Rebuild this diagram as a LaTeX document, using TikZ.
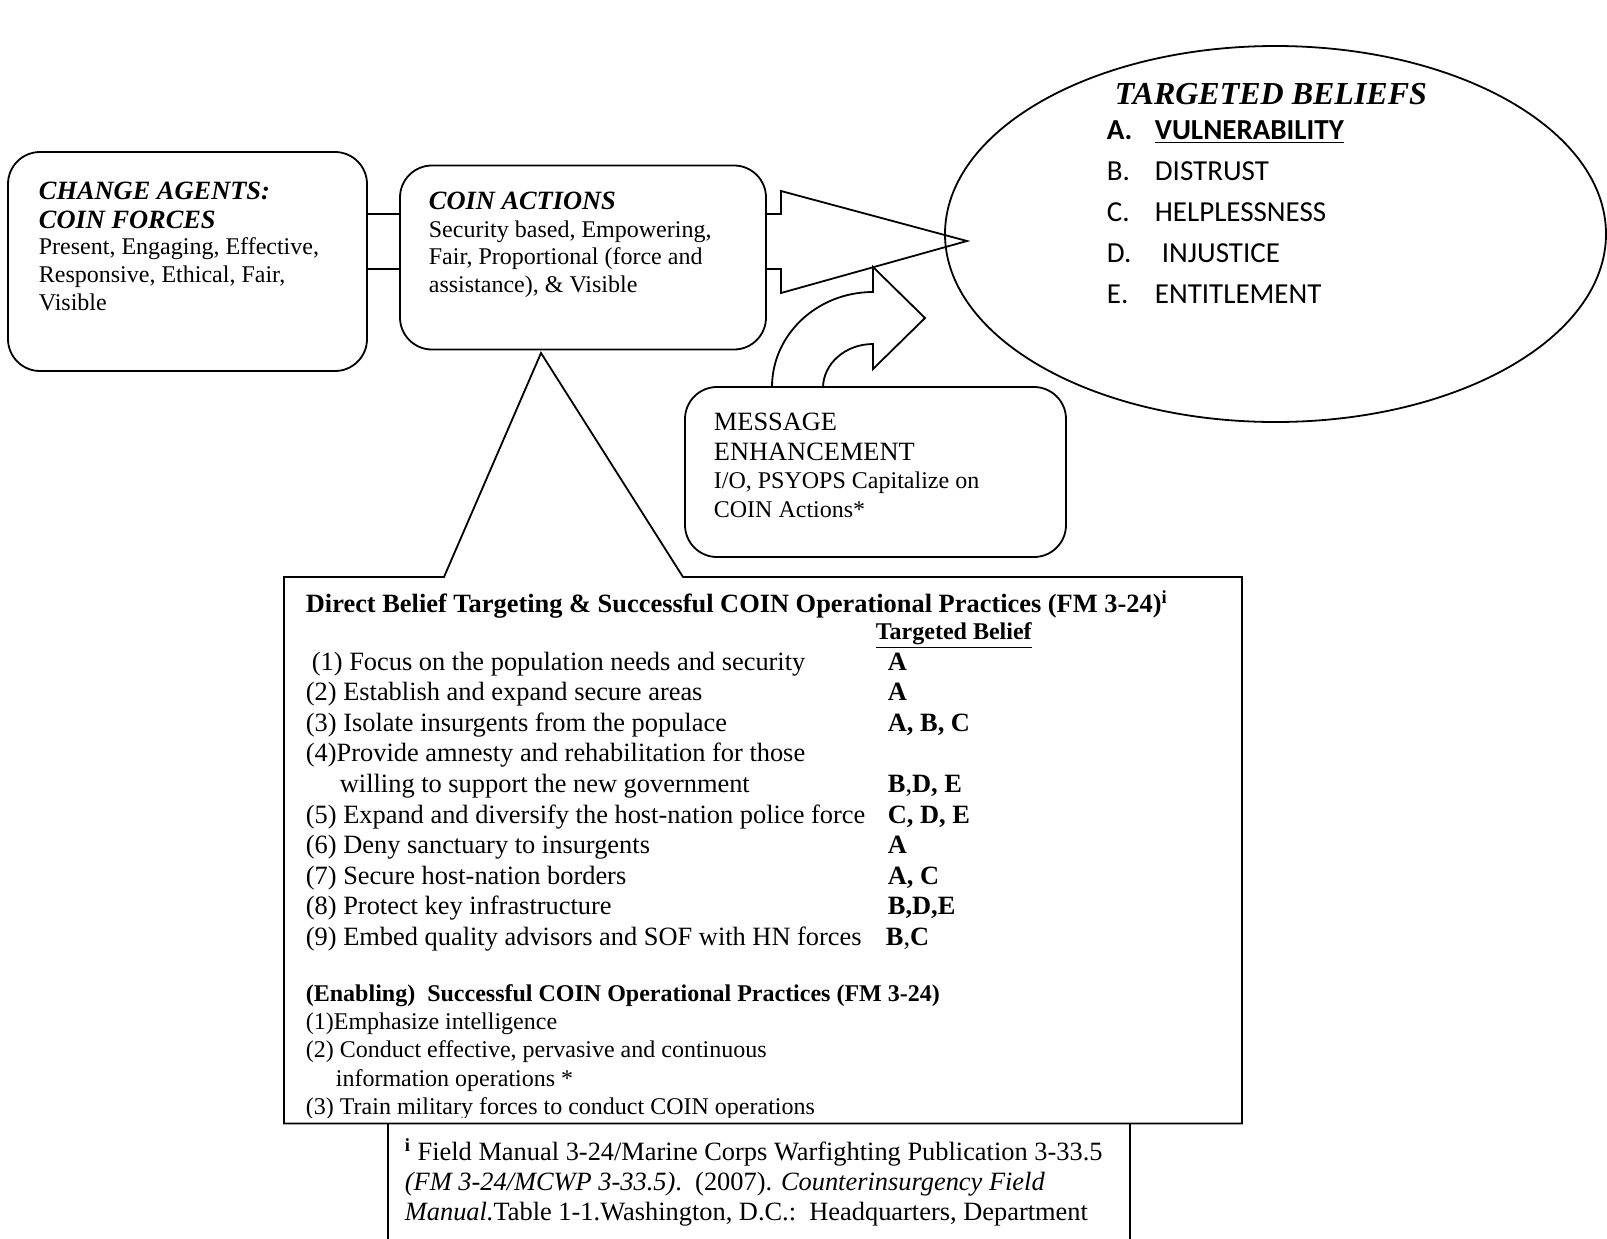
\documentclass[tikz,border=0pt]{standalone}
\usepackage{fontspec}
\setmainfont{Liberation Serif}
\newfontfamily\calib{Carlito}
\usetikzlibrary{shapes.geometric}
\begin{document}
\begin{tikzpicture}[x=0.5pt,y=-0.5pt,line width=0.9pt,
  every node/.style={inner sep=0pt},
  txt/.style={anchor=base west, font=\fontsize{12}{14}\selectfont},
  mid/.style={anchor=base west, font=\fontsize{13.2}{15}\selectfont},
  midb/.style={anchor=base west, font=\fontsize{13.2}{15}\selectfont\bfseries},
  ttl/.style={anchor=base west, font=\fontsize{13.2}{15}\selectfont\bfseries\itshape},
  lst/.style={anchor=base west, font=\fontsize{14.5}{17}\selectfont\calib},
  rbox/.style={draw, rectangle, rounded corners=16pt},
]
\useasboundingbox (0,0) rectangle (1607,1238);

% boxes
\node[rbox, minimum width=179.5pt, minimum height=109.5pt] (agents) at (187.5,261.5) {};
\node[rbox, minimum width=183pt, minimum height=92pt] (actions) at (583,257.5) {};
\node[rbox, minimum width=190.5pt, minimum height=85pt] (msg) at (875.5,472) {};
\node[draw, ellipse, minimum width=330.5pt, minimum height=188pt] (beliefs) at (1275.5,234) {};

% box texts
\node[ttl] (a1) at (38,199) {CHANGE AGENTS:};
\node[ttl] (a2) at (38,228) {COIN FORCES};
\node[txt] (a3) at (38,254) {Present, Engaging, Effective,};
\node[txt] (a4) at (38,282) {Responsive, Ethical, Fair,};
\node[txt] (a5) at (38,310) {Visible};

\node[ttl] (b1) at (428,209) {COIN ACTIONS};
\node[txt] (b2) at (428,237) {Security based, Empowering,};
\node[txt] (b3) at (428,264.5) {Fair, Proportional (force and};
\node[txt] (b4) at (428,292) {assistance), \& Visible};

\node[mid] (m1) at (713,430) {MESSAGE};
\node[mid] (m2) at (713,460) {ENHANCEMENT};
\node[txt] (m3) at (713,488) {I/O, PSYOPS Capitalize on};
\node[txt] (m4) at (713,517) {COIN Actions*};

\node[anchor=base west, font=\fontsize{16}{19}\selectfont\bfseries\itshape] (tb) at (1114,104) {TARGETED BELIEFS};
\node[lst, font=\fontsize{14.5}{17}\selectfont\calib\bfseries] (lA) at (1106,139.5) {A.};
\node[lst, font=\fontsize{14.5}{17}\selectfont\calib\bfseries] (tA) at (1154,139.5) {\underline{VULNERABILITY}};
\node[lst] (lB) at (1106,180.5) {B.};
\node[lst] (tB) at (1154,180.5) {DISTRUST};
\node[lst] (lC) at (1106,221.5) {C.};
\node[lst] (tC) at (1154,221.5) {HELPLESSNESS};
\node[lst] (lD) at (1106,262.5) {D.};
\node[lst] (tD) at (1161,262.5) {INJUSTICE};
\node[lst] (lE) at (1106,303.5) {E.};
\node[lst] (tE) at (1154,303.5) {ENTITLEMENT};

% connectors
\coordinate (c1) at (0,214);
\coordinate (c2) at (0,269);
\draw (agents.east |- c1) -- (actions.west |- c1);
\draw (agents.east |- c2) -- (actions.west |- c2);

% block arrow to beliefs
\draw (actions.east |- c1) -- (781,214) -- (781,191) -- (967,241) -- (781,293) -- (781,269) -- (actions.east |- c2);

% curved arrow from message box
\coordinate (ca) at (772,387);
\draw (ca) arc[start angle=180,end angle=90,x radius=50.5pt,y radius=47.5pt]
  -- (873,267) -- (925,318) -- (873,369) -- (873,344)
  arc[start angle=90,end angle=180,x radius=25pt,y radius=22pt];

% table callout
\coordinate (apex) at (541,353);
\draw (284,577) -- (444,577) -- (apex) -- (683,577) -- (1242,577) -- (1242,1123.5) -- (284,1123.5) -- cycle;

\begin{scope}
\clip (284,577) rectangle (1242,1117);
\node[midb] (th) at (305,612) {Direct Belief Targeting \& Successful COIN Operational Practices (FM 3-24)\textsuperscript{i}};
\node[anchor=base west, font=\fontsize{12}{14}\selectfont\bfseries] (tbh) at (875,639) {\underline{Targeted Belief}};
\node[mid] (r1) at (311,670) {(1) Focus on the population needs and security};
\node[mid] (r2) at (305,700.5) {(2) Establish and expand secure areas};
\node[mid] (r3) at (305,731) {(3) Isolate insurgents from the populace};
\node[mid] (r4) at (305,761.5) {(4)Provide amnesty and rehabilitation for those};
\node[mid] (r4b) at (339,792) {willing to support the new government};
\node[mid] (r5) at (305,823) {(5) Expand and diversify the host-nation police force};
\node[mid] (r6) at (305,853.5) {(6) Deny sanctuary to insurgents};
\node[mid] (r7) at (305,884) {(7) Secure host-nation borders};
\node[mid] (r8) at (305,914.5) {(8) Protect key infrastructure};
\node[mid] (r9) at (305,945) {(9) Embed quality advisors and SOF with HN forces};
\node[midb] (k1) at (887,670) {A};
\node[midb] (k2) at (887,700.5) {A};
\node[midb] (k3) at (887,731) {A, B, C};
\node[mid] (k4) at (887,792) {\textbf{B},\textbf{D, E}};
\node[midb] (k5) at (887,823) {C, D, E};
\node[midb] (k6) at (887,853.5) {A};
\node[midb] (k7) at (887,884) {A, C};
\node[midb] (k8) at (887,914.5) {B,D,E};
\node[mid] (k9) at (885,945) {\textbf{B},\textbf{C}};

\node[anchor=base west, font=\fontsize{12}{14}\selectfont\bfseries] (eh) at (305,1001) {(Enabling)\ \ Successful COIN Operational Practices (FM 3-24)};
\node[txt] (e1) at (305,1029.5) {(1)Emphasize intelligence};
\node[txt] (e2) at (305,1057.5) {(2) Conduct effective, pervasive and continuous};
\node[txt] (e2b) at (335,1086) {information operations *};
\node[txt] (e3) at (305,1114) {(3) Train military forces to conduct COIN operations};
\end{scope}

% footnote box
\coordinate (f1) at (388,1123.5);
\coordinate (f2) at (1130,1123.5);
\draw (f1) -- (388,1250);
\draw (f2) -- (1130,1250);
\node[mid] (fn1) at (404,1160) {\textsuperscript{\textbf{i}} Field Manual 3-24/Marine Corps Warfighting Publication 3-33.5};
\node[mid] (fn2) at (404,1190) {\textit{(FM 3-24/MCWP 3-33.5)}.\ \ (2007). \textit{Counterinsurgency Field}};
\node[mid] (fn3) at (404,1220) {\textit{Manual.}Table 1-1.Washington, D.C.:\ \ Headquarters, Department};
\end{tikzpicture}
\end{document}
